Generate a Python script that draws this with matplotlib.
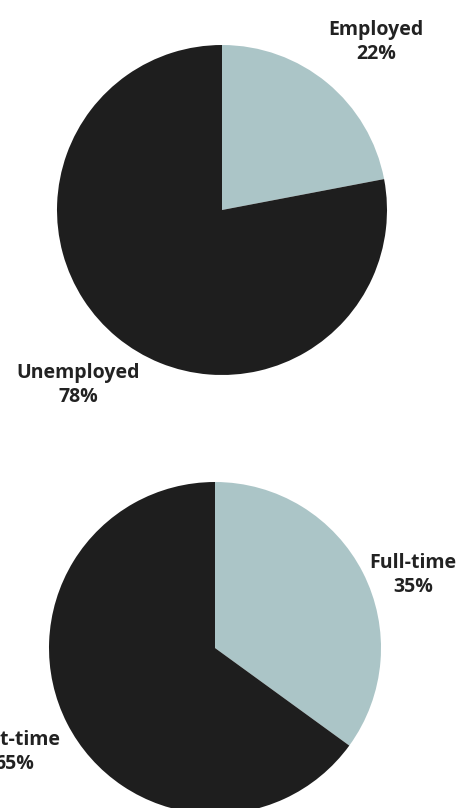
import numpy as np
import matplotlib
matplotlib.use("Agg")
import matplotlib.pyplot as plt

# employment status
status_labels = ["Employed", "Unemployed"]
status_pct = [22, 78]

# type of employment
type_labels = ["Full-time", "Part-time"]
type_pct = [35, 65]

colors = ["#abc5c7", "#1e1e1e"]
text_color = "#222222"

W, H = 458, 808
fig = plt.figure(figsize=(W / 100, H / 100), dpi=100)


def pie_axes(cx, cy, r):
    # axes box in pixels, origin top-left
    return fig.add_axes([(cx - r) / W, (H - cy - r) / H, 2 * r / W, 2 * r / H])


def draw_pie(ax, labels, values, label_pos):
    ax.pie(values, colors=colors, startangle=90, counterclock=False,
           radius=1, wedgeprops=dict(linewidth=0))
    for lab, val, (x, y) in zip(labels, values, label_pos):
        ax.text(x, y, f"{lab}\n{val}%", ha="center", va="center",
                fontsize=14, fontweight="bold", family="Open Sans",
                color=text_color, linespacing=1.3)
    ax.set_xlim(-1, 1)
    ax.set_ylim(-1, 1)
    ax.set_aspect("equal")
    ax.axis("off")


ax1 = pie_axes(222, 210, 165)
draw_pie(ax1, status_labels, status_pct, [(0.933, 1.018), (-0.873, -1.06)])

ax2 = pie_axes(215, 648, 166)
draw_pie(ax2, type_labels, type_pct, [(1.193, 0.44), (-1.21, -0.627)])

for ax in (ax1, ax2):
    for artist in ax.get_children():
        artist.set_clip_on(False)

fig.savefig("out.png", dpi=100, facecolor="white")
